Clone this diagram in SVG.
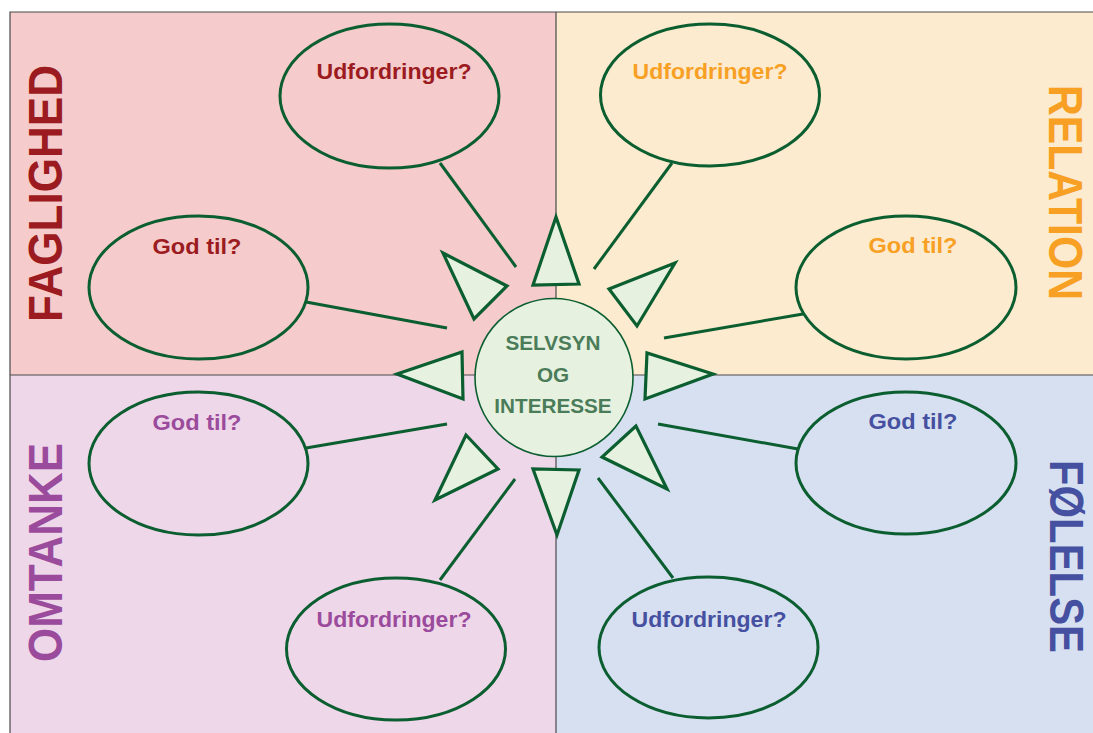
<svg xmlns="http://www.w3.org/2000/svg" width="1093" height="733" viewBox="0 0 1093 733">
<style>
.q{stroke:none}
.div{stroke:#4a4a4a;stroke-width:1.2;fill:none}
.bub{fill:none;stroke:#0b5e2f;stroke-width:3}
.ray{fill:#e6f1df;stroke:#0b5e2f;stroke-width:3.2;stroke-linejoin:miter}
.con{stroke:#0b5e2f;stroke-width:3;fill:none}
.lbl{font-family:"Liberation Sans",Arial,sans-serif;font-weight:bold;font-size:22.5px;text-anchor:middle}
.big{font-family:"Liberation Sans",Arial,sans-serif;font-weight:bold;font-size:48px;text-anchor:middle}
.ctr{font-family:"Liberation Sans",Arial,sans-serif;font-weight:bold;font-size:20.7px;text-anchor:middle;fill:#4a7c59}
.red{fill:#9b1b20}.org{fill:#f7a024}.pur{fill:#9b4b9c}.blu{fill:#4650a0}
</style>
<rect width="1093" height="733" fill="#ffffff"/>
<g id="quadrants">
<rect class="q" x="10" y="12" width="546" height="363" fill="#f5cbcb"/>
<rect class="q" x="556" y="12" width="537" height="363" fill="#fdebcf"/>
<rect class="q" x="10" y="375" width="546" height="358" fill="#efd7ea"/>
<rect class="q" x="556" y="375" width="537" height="358" fill="#d7e0f1"/>
<path class="div" d="M10,733 V12 H1093 M556,12 V733 M10,375 H1093"/>
</g>
<g id="titles">
<text class="big red" transform="translate(62,193.5) rotate(-90)" textLength="257" lengthAdjust="spacingAndGlyphs">FAGLIGHED</text>
<text class="big org" transform="translate(1049,192.5) rotate(90)" textLength="215" lengthAdjust="spacingAndGlyphs">RELATION</text>
<text class="big pur" transform="translate(62,552.5) rotate(-90)" textLength="219" lengthAdjust="spacingAndGlyphs">OMTANKE</text>
<text class="big blu" transform="translate(1050,556.5) rotate(90)" textLength="193" lengthAdjust="spacingAndGlyphs">FØLELSE</text>
</g>
<g id="connectors">
<line class="con" x1="440" y1="163" x2="516" y2="267"/>
<line class="con" x1="672" y1="163" x2="594" y2="269"/>
<line class="con" x1="306" y1="302" x2="447" y2="328"/>
<line class="con" x1="803" y1="314" x2="664" y2="338"/>
<line class="con" x1="306" y1="448" x2="447" y2="424"/>
<line class="con" x1="798" y1="449" x2="658" y2="424"/>
<line class="con" x1="440" y1="580" x2="515" y2="479"/>
<line class="con" x1="673" y1="578" x2="598" y2="478"/>
</g>
<g id="rays">
<polygon class="ray" points="556,217 533,285 579,284"/>
<polygon class="ray" points="675,263 609,289 637,326"/>
<polygon class="ray" points="713,374 647,353 645,399"/>
<polygon class="ray" points="636,426 602,457 667,489"/>
<polygon class="ray" points="557,535 533,469 579,470"/>
<polygon class="ray" points="466,435 498,469 435,500"/>
<polygon class="ray" points="397,374 462,352 463,399"/>
<polygon class="ray" points="443,253 507,286 474,319"/>
</g>
<g id="center">
<circle cx="554" cy="377.5" r="79" fill="#e6f1df" stroke="#0b5e2f" stroke-width="1.6"/>
<text class="ctr" x="553" y="350">SELVSYN</text>
<text class="ctr" x="553" y="382">OG</text>
<text class="ctr" x="553" y="413">INTERESSE</text>
</g>
<g id="fag-udfordringer">
<ellipse class="bub" cx="389.5" cy="96" rx="109.5" ry="72"/>
<text class="lbl red" x="394" y="79" textLength="155" lengthAdjust="spacingAndGlyphs">Udfordringer?</text>
</g>
<g id="fag-godtil">
<ellipse class="bub" cx="198.5" cy="287.5" rx="109.5" ry="71.5"/>
<text class="lbl red" x="197" y="254" textLength="89" lengthAdjust="spacingAndGlyphs">God til?</text>
</g>
<g id="rel-udfordringer">
<ellipse class="bub" cx="710" cy="95" rx="109.5" ry="71"/>
<text class="lbl org" x="710" y="79" textLength="155" lengthAdjust="spacingAndGlyphs">Udfordringer?</text>
</g>
<g id="rel-godtil">
<ellipse class="bub" cx="906" cy="287.5" rx="110" ry="71.5"/>
<text class="lbl org" x="913" y="253" textLength="89" lengthAdjust="spacingAndGlyphs">God til?</text>
</g>
<g id="omt-godtil">
<ellipse class="bub" cx="198.5" cy="463.5" rx="109.5" ry="71.5"/>
<text class="lbl pur" x="197" y="430" textLength="89" lengthAdjust="spacingAndGlyphs">God til?</text>
</g>
<g id="omt-udfordringer">
<ellipse class="bub" cx="396" cy="649" rx="109.5" ry="71"/>
<text class="lbl pur" x="394" y="627" textLength="155" lengthAdjust="spacingAndGlyphs">Udfordringer?</text>
</g>
<g id="fol-godtil">
<ellipse class="bub" cx="906" cy="463" rx="110" ry="71"/>
<text class="lbl blu" x="913" y="429" textLength="89" lengthAdjust="spacingAndGlyphs">God til?</text>
</g>
<g id="fol-udfordringer">
<ellipse class="bub" cx="708.5" cy="647.5" rx="109.5" ry="70.5"/>
<text class="lbl blu" x="709" y="627" textLength="155" lengthAdjust="spacingAndGlyphs">Udfordringer?</text>
</g>
</svg>
